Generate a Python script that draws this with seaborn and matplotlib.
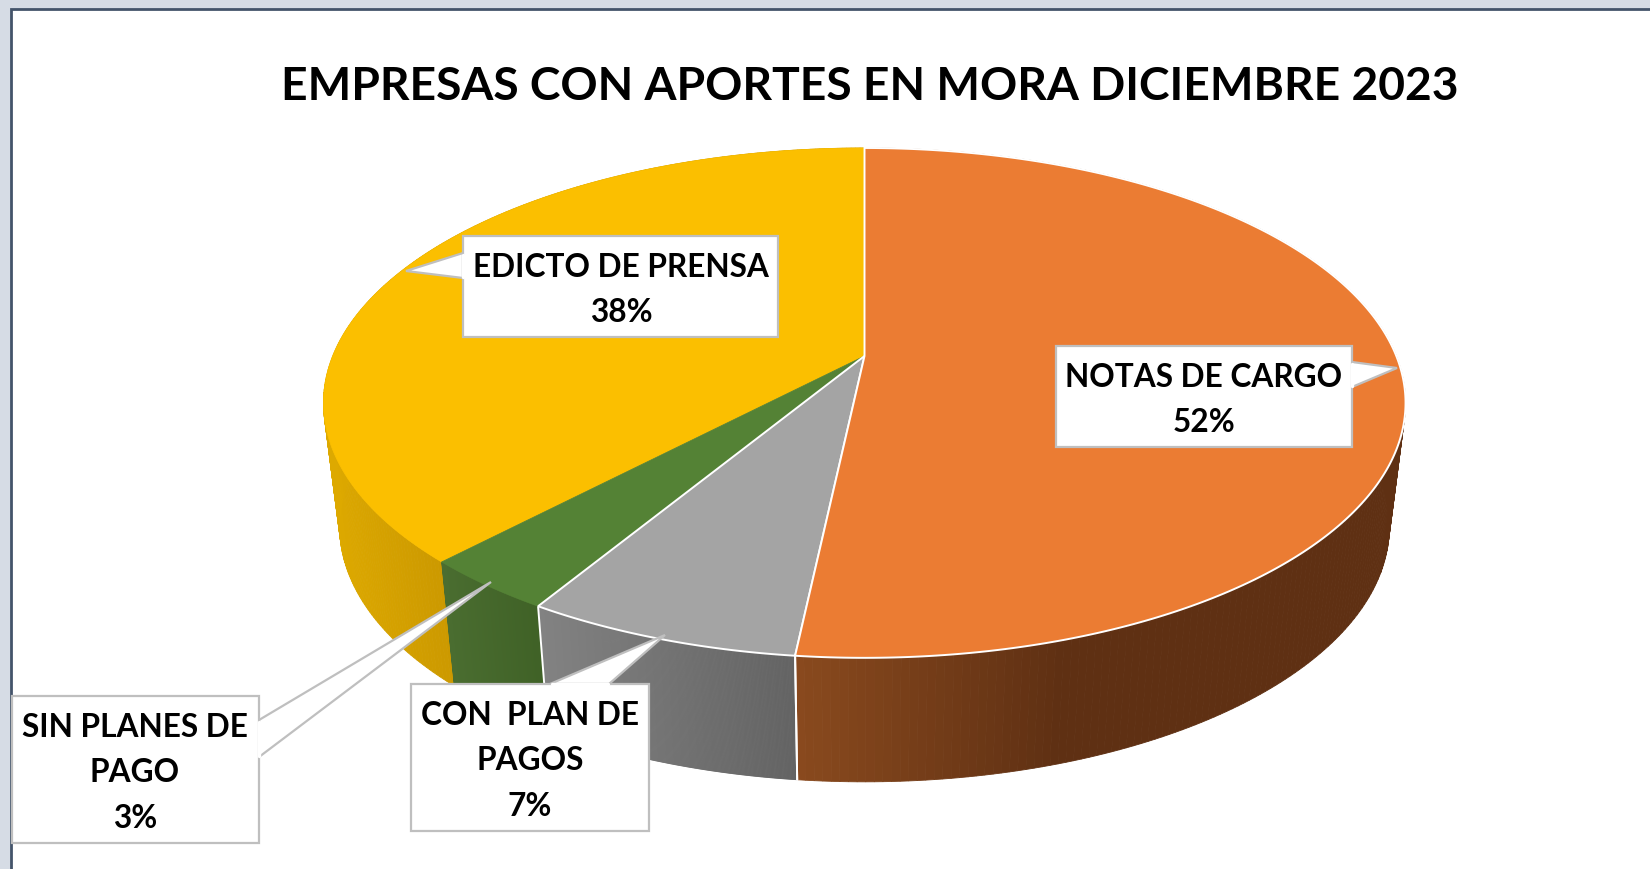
import numpy as np
import matplotlib
matplotlib.use('Agg')
import matplotlib.pyplot as plt
from matplotlib.patches import Rectangle
import seaborn as sns

title = 'EMPRESAS CON APORTES EN MORA DICIEMBRE 2023'
labels = ['NOTAS DE CARGO\n52%', 'CON  PLAN DE\nPAGOS\n7%', 'SIN PLANES DE\nPAGO\n3%', 'EDICTO DE PRENSA\n38%']
values = [51.7, 6.95, 3.45, 37.9]
top_colors = ['#EB7C33', '#A4A4A4', '#548235', '#FBBF00']
side_left = ['#8A4A1E', '#828282', '#4A6D30', '#DDA900']
side_right = ['#5F3013', '#636363', '#3F6126', '#CC9900']
side_span = [270, 257, 100, 120]
white_edge = [True, True, False, False]

# callout boxes: x0, y0, x1, y1 and the tail (base, tip, base) in pixels
boxes = [(1056, 346, 1352, 447), (411, 684, 649, 831), (12, 696, 259, 843), (463, 236, 778, 337)]
tails = [[(1352, 362), (1397, 368), (1352, 387)],
         [(550, 684), (665, 635), (609, 684)],
         [(259, 720), (491, 582), (259, 757)],
         [(463, 253), (406, 271), (463, 278)]]
text_xy = [(1204, 400), (530, 761), (135, 773), (621, 290)]

cx, cy = 864.5, 356
A, B, k = 531.8, 246.3, 0.184   # perspective of the disc
depth, shrink = 124, 0.97


def top_point(theta):
    # theta clockwise from 12 o'clock
    x, y = np.sin(theta), np.cos(theta)
    d = 1 + k * y
    return cx + A * x / d, cy - B * y / d


def bottom_point(theta):
    x, y = top_point(theta)
    return cx + shrink * (x - cx), y + depth


sns.set_theme(style='white')
plt.rcParams['font.family'] = ['Lato', 'DejaVu Sans']

fig = plt.figure(figsize=(16.5, 8.69), dpi=100, facecolor='#D6DCE5')
ax = fig.add_axes([0, 0, 1, 1])
ax.set_xlim(0, 1650)
ax.set_ylim(869, 0)
ax.axis('off')

ax.add_patch(Rectangle((11, 9), 1700, 900, facecolor='white', edgecolor='#44546A', linewidth=2, zorder=0))

edges = np.concatenate([[0], np.cumsum(values)]) / np.sum(values) * 2 * np.pi

# side wall first, the top surface covers what is behind it
for i in [3, 0, 1, 2]:
    th = np.linspace(edges[i], edges[i + 1], 240)
    xt, yt = top_point(th)
    xb, yb = bottom_point(th)
    pal = sns.blend_palette([side_left[i], side_right[i]], 128)
    xmin = xt.min()
    for j in range(len(th) - 1):
        t = min((xt[j] - xmin) / side_span[i], 1)
        c = pal[int(t * 127)]
        ax.fill([xt[j], xt[j + 1], xb[j + 1], xb[j]], [yt[j], yt[j + 1], yb[j + 1], yb[j]],
                facecolor=c, edgecolor=c, linewidth=0.6, zorder=1)
    if white_edge[i]:
        for e in [0, -1]:
            ax.plot([xt[e], xb[e]], [yt[e], yb[e]], color='white', lw=1.4, zorder=2)

# top surface
for i in [3, 2, 1, 0]:
    th = np.linspace(edges[i], edges[i + 1], 300)
    x, y = top_point(th)
    ax.fill(np.r_[cx, x], np.r_[cy, y], facecolor=top_colors[i],
            edgecolor='white' if white_edge[i] else top_colors[i],
            linewidth=1.4 if white_edge[i] else 0.5, zorder=3)

# callouts
for (x0, y0, x1, y1), tail, lab, (tx, ty) in zip(boxes, tails, labels, text_xy):
    ax.fill([p[0] for p in tail], [p[1] for p in tail], facecolor='white',
            edgecolor='#BFBFBF', linewidth=1.6, zorder=4)
    ax.add_patch(Rectangle((x0, y0), x1 - x0, y1 - y0, facecolor='white',
                           edgecolor='#BFBFBF', linewidth=1.6, zorder=5))
    # hide the box line where the tail joins it
    xs = [p[0] for p in tail]
    ys = [p[1] for p in tail]
    if xs[0] == xs[2]:
        ax.plot([xs[0], xs[2]], [ys[0] + 1.5, ys[2] - 1.5], color='white', lw=2.4, zorder=6)
    else:
        ax.plot([xs[0] + 1.5, xs[2] - 1.5], [ys[0], ys[2]], color='white', lw=2.4, zorder=6)
    ax.text(tx, ty, lab, ha='center', va='center', fontsize=22.8, fontweight='bold',
            color='black', linespacing=1.7, zorder=7)

ax.text(870, 87, title, ha='center', va='center', fontsize=33.2, fontweight='bold', color='black', zorder=7)

fig.savefig('out.png', dpi=100, facecolor=fig.get_facecolor())
